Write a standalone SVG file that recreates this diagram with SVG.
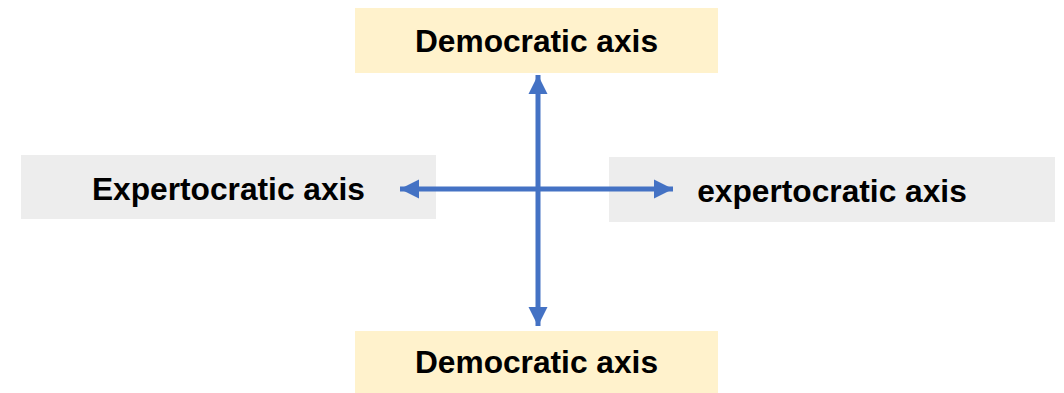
<svg xmlns="http://www.w3.org/2000/svg" width="1064" height="393" viewBox="0 0 1064 393">
<defs>
<marker id="ah" viewBox="0 0 10 10" refX="10" refY="5" markerWidth="3.8" markerHeight="4" markerUnits="strokeWidth" orient="auto-start-reverse">
<path d="M0,0 L10,5 L0,10 Z" fill="#4472C4"/>
</marker>
<style>
.dem{fill:#FFF2CC}
.exp{fill:#EDEDED}
.t{font-family:"Liberation Sans",Arial,sans-serif;font-weight:bold;font-size:31.7px;fill:#000;text-anchor:middle}
.c{stroke:#4472C4;stroke-width:5;fill:none;marker-start:url(#ah);marker-end:url(#ah)}
</style>
</defs>
<rect width="1064" height="393" fill="#fff"/>
<g id="node-top">
<rect class="dem" x="355" y="8" width="363" height="65"/>
<text class="t" x="536.5" y="52">Democratic axis</text>
</g>
<g id="node-bottom">
<rect class="dem" x="355" y="331" width="363" height="62"/>
<text class="t" x="536.5" y="373">Democratic axis</text>
</g>
<g id="node-left">
<rect class="exp" x="21" y="155" width="415" height="64"/>
<text class="t" x="228.5" y="200">Expertocratic axis</text>
</g>
<g id="node-right">
<rect class="exp" x="609" y="157" width="446" height="65"/>
<text class="t" x="832" y="202">expertocratic axis</text>
</g>
<g id="connectors">
<line class="c" x1="538" y1="75" x2="538" y2="326"/>
<line class="c" x1="400" y1="189" x2="673" y2="189"/>
</g>
</svg>
